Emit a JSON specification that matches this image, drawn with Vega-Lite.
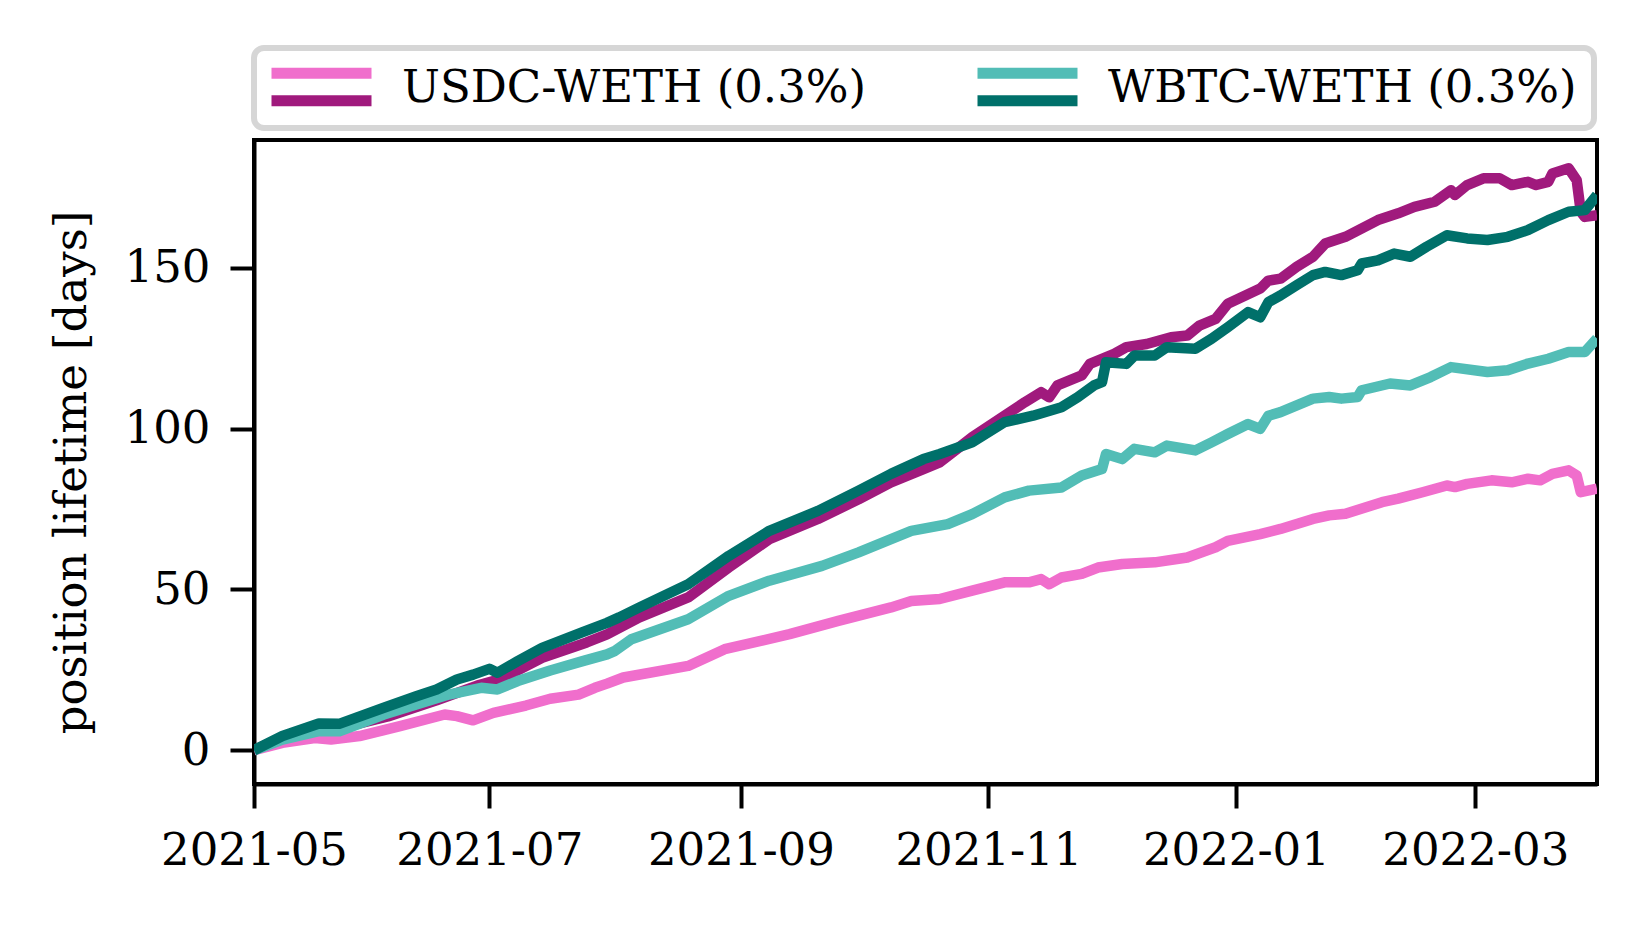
{
  "$schema": "https://vega.github.io/schema/vega-lite/v6.json",
  "width": 1343,
  "height": 644,
  "autosize": {"type": "none"},
  "padding": {"left": 254, "top": 140, "right": 50, "bottom": 141},
  "background": "white",
  "data": {
    "values": [
      {"s": "usdc_a", "d": "2021-05-04", "v": 0},
      {"s": "usdc_a", "d": "2021-05-11", "v": 2.3},
      {"s": "usdc_a", "d": "2021-05-19", "v": 3.8},
      {"s": "usdc_a", "d": "2021-05-23", "v": 3.3},
      {"s": "usdc_a", "d": "2021-05-30", "v": 4.4},
      {"s": "usdc_a", "d": "2021-06-09", "v": 7.5},
      {"s": "usdc_a", "d": "2021-06-20", "v": 11.1},
      {"s": "usdc_a", "d": "2021-06-23", "v": 10.6},
      {"s": "usdc_a", "d": "2021-06-27", "v": 9.3},
      {"s": "usdc_a", "d": "2021-07-02", "v": 11.6},
      {"s": "usdc_a", "d": "2021-07-10", "v": 13.9},
      {"s": "usdc_a", "d": "2021-07-16", "v": 16},
      {"s": "usdc_a", "d": "2021-07-23", "v": 17.3},
      {"s": "usdc_a", "d": "2021-07-27", "v": 19.4},
      {"s": "usdc_a", "d": "2021-07-30", "v": 20.7},
      {"s": "usdc_a", "d": "2021-08-03", "v": 22.6},
      {"s": "usdc_a", "d": "2021-08-19", "v": 26.2},
      {"s": "usdc_a", "d": "2021-08-28", "v": 31.4},
      {"s": "usdc_a", "d": "2021-09-13", "v": 36.1},
      {"s": "usdc_a", "d": "2021-09-25", "v": 40.2},
      {"s": "usdc_a", "d": "2021-10-08", "v": 44.4},
      {"s": "usdc_a", "d": "2021-10-13", "v": 46.4},
      {"s": "usdc_a", "d": "2021-10-20", "v": 47},
      {"s": "usdc_a", "d": "2021-10-28", "v": 49.6},
      {"s": "usdc_a", "d": "2021-11-05", "v": 52.2},
      {"s": "usdc_a", "d": "2021-11-11", "v": 52.2},
      {"s": "usdc_a", "d": "2021-11-14", "v": 53.2},
      {"s": "usdc_a", "d": "2021-11-16", "v": 51.6},
      {"s": "usdc_a", "d": "2021-11-19", "v": 53.7},
      {"s": "usdc_a", "d": "2021-11-24", "v": 54.8},
      {"s": "usdc_a", "d": "2021-11-28", "v": 56.8},
      {"s": "usdc_a", "d": "2021-12-04", "v": 57.9},
      {"s": "usdc_a", "d": "2021-12-12", "v": 58.4},
      {"s": "usdc_a", "d": "2021-12-20", "v": 59.9},
      {"s": "usdc_a", "d": "2021-12-27", "v": 63.1},
      {"s": "usdc_a", "d": "2021-12-30", "v": 65.1},
      {"s": "usdc_a", "d": "2022-01-07", "v": 67.2},
      {"s": "usdc_a", "d": "2022-01-12", "v": 68.8},
      {"s": "usdc_a", "d": "2022-01-20", "v": 71.9},
      {"s": "usdc_a", "d": "2022-01-24", "v": 73},
      {"s": "usdc_a", "d": "2022-01-28", "v": 73.5},
      {"s": "usdc_a", "d": "2022-02-06", "v": 77.1},
      {"s": "usdc_a", "d": "2022-02-10", "v": 78.2},
      {"s": "usdc_a", "d": "2022-02-16", "v": 80.2},
      {"s": "usdc_a", "d": "2022-02-22", "v": 82.3},
      {"s": "usdc_a", "d": "2022-02-24", "v": 81.8},
      {"s": "usdc_a", "d": "2022-02-27", "v": 82.8},
      {"s": "usdc_a", "d": "2022-03-05", "v": 83.9},
      {"s": "usdc_a", "d": "2022-03-10", "v": 83.3},
      {"s": "usdc_a", "d": "2022-03-14", "v": 84.4},
      {"s": "usdc_a", "d": "2022-03-17", "v": 83.9},
      {"s": "usdc_a", "d": "2022-03-20", "v": 85.9},
      {"s": "usdc_a", "d": "2022-03-24", "v": 87},
      {"s": "usdc_a", "d": "2022-03-26", "v": 85.4},
      {"s": "usdc_a", "d": "2022-03-27", "v": 80.2},
      {"s": "usdc_a", "d": "2022-03-31", "v": 81.3},

      {"s": "usdc_b", "d": "2021-05-04", "v": 0},
      {"s": "usdc_b", "d": "2021-05-11", "v": 4.0},
      {"s": "usdc_b", "d": "2021-05-20", "v": 7.0},
      {"s": "usdc_b", "d": "2021-05-29", "v": 8.0},
      {"s": "usdc_b", "d": "2021-06-06", "v": 10.5},
      {"s": "usdc_b", "d": "2021-06-18", "v": 15.5},
      {"s": "usdc_b", "d": "2021-06-28", "v": 20.1},
      {"s": "usdc_b", "d": "2021-07-04", "v": 22.2},
      {"s": "usdc_b", "d": "2021-07-14", "v": 28.7},
      {"s": "usdc_b", "d": "2021-07-25", "v": 33.5},
      {"s": "usdc_b", "d": "2021-07-30", "v": 36},
      {"s": "usdc_b", "d": "2021-08-07", "v": 41.3},
      {"s": "usdc_b", "d": "2021-08-19", "v": 47.5},
      {"s": "usdc_b", "d": "2021-08-29", "v": 56.8},
      {"s": "usdc_b", "d": "2021-09-08", "v": 65.6},
      {"s": "usdc_b", "d": "2021-09-20", "v": 71.9},
      {"s": "usdc_b", "d": "2021-09-30", "v": 78},
      {"s": "usdc_b", "d": "2021-10-08", "v": 83.3},
      {"s": "usdc_b", "d": "2021-10-16", "v": 87.4},
      {"s": "usdc_b", "d": "2021-10-20", "v": 89.5},
      {"s": "usdc_b", "d": "2021-10-28", "v": 97.3},
      {"s": "usdc_b", "d": "2021-11-05", "v": 104},
      {"s": "usdc_b", "d": "2021-11-10", "v": 108.2},
      {"s": "usdc_b", "d": "2021-11-14", "v": 111.3},
      {"s": "usdc_b", "d": "2021-11-16", "v": 109.7},
      {"s": "usdc_b", "d": "2021-11-18", "v": 113.4},
      {"s": "usdc_b", "d": "2021-11-24", "v": 116.5},
      {"s": "usdc_b", "d": "2021-11-26", "v": 120.1},
      {"s": "usdc_b", "d": "2021-12-02", "v": 123.2},
      {"s": "usdc_b", "d": "2021-12-05", "v": 125.3},
      {"s": "usdc_b", "d": "2021-12-10", "v": 126.3},
      {"s": "usdc_b", "d": "2021-12-16", "v": 128.4},
      {"s": "usdc_b", "d": "2021-12-20", "v": 128.9},
      {"s": "usdc_b", "d": "2021-12-23", "v": 132},
      {"s": "usdc_b", "d": "2021-12-27", "v": 134.1},
      {"s": "usdc_b", "d": "2021-12-30", "v": 138.8},
      {"s": "usdc_b", "d": "2022-01-07", "v": 143.5},
      {"s": "usdc_b", "d": "2022-01-09", "v": 146},
      {"s": "usdc_b", "d": "2022-01-12", "v": 146.6},
      {"s": "usdc_b", "d": "2022-01-16", "v": 150.3},
      {"s": "usdc_b", "d": "2022-01-20", "v": 153.4},
      {"s": "usdc_b", "d": "2022-01-23", "v": 157.5},
      {"s": "usdc_b", "d": "2022-01-28", "v": 159.6},
      {"s": "usdc_b", "d": "2022-02-05", "v": 164.8},
      {"s": "usdc_b", "d": "2022-02-10", "v": 166.9},
      {"s": "usdc_b", "d": "2022-02-14", "v": 168.9},
      {"s": "usdc_b", "d": "2022-02-19", "v": 170.5},
      {"s": "usdc_b", "d": "2022-02-23", "v": 174.1},
      {"s": "usdc_b", "d": "2022-02-24", "v": 172.6},
      {"s": "usdc_b", "d": "2022-02-27", "v": 175.7},
      {"s": "usdc_b", "d": "2022-03-03", "v": 177.8},
      {"s": "usdc_b", "d": "2022-03-07", "v": 177.8},
      {"s": "usdc_b", "d": "2022-03-10", "v": 175.7},
      {"s": "usdc_b", "d": "2022-03-14", "v": 176.7},
      {"s": "usdc_b", "d": "2022-03-16", "v": 175.7},
      {"s": "usdc_b", "d": "2022-03-19", "v": 176.7},
      {"s": "usdc_b", "d": "2022-03-20", "v": 179.3},
      {"s": "usdc_b", "d": "2022-03-24", "v": 180.9},
      {"s": "usdc_b", "d": "2022-03-26", "v": 177.2},
      {"s": "usdc_b", "d": "2022-03-27", "v": 167.4},
      {"s": "usdc_b", "d": "2022-03-28", "v": 165.8},
      {"s": "usdc_b", "d": "2022-03-31", "v": 166.3},

      {"s": "wbtc_a", "d": "2021-05-04", "v": 0},
      {"s": "wbtc_a", "d": "2021-05-11", "v": 3.3},
      {"s": "wbtc_a", "d": "2021-05-20", "v": 5.9},
      {"s": "wbtc_a", "d": "2021-05-25", "v": 5.9},
      {"s": "wbtc_a", "d": "2021-06-05", "v": 11.1},
      {"s": "wbtc_a", "d": "2021-06-13", "v": 14.2},
      {"s": "wbtc_a", "d": "2021-06-21", "v": 17.3},
      {"s": "wbtc_a", "d": "2021-06-29", "v": 19.4},
      {"s": "wbtc_a", "d": "2021-07-03", "v": 18.9},
      {"s": "wbtc_a", "d": "2021-07-08", "v": 21.5},
      {"s": "wbtc_a", "d": "2021-07-16", "v": 24.8},
      {"s": "wbtc_a", "d": "2021-07-24", "v": 27.7},
      {"s": "wbtc_a", "d": "2021-07-30", "v": 29.8},
      {"s": "wbtc_a", "d": "2021-08-01", "v": 30.9},
      {"s": "wbtc_a", "d": "2021-08-05", "v": 34.5},
      {"s": "wbtc_a", "d": "2021-08-19", "v": 40.7},
      {"s": "wbtc_a", "d": "2021-08-29", "v": 48},
      {"s": "wbtc_a", "d": "2021-09-08", "v": 52.7},
      {"s": "wbtc_a", "d": "2021-09-21", "v": 57.3},
      {"s": "wbtc_a", "d": "2021-09-30", "v": 61.5},
      {"s": "wbtc_a", "d": "2021-10-08", "v": 65.6},
      {"s": "wbtc_a", "d": "2021-10-13", "v": 68.2},
      {"s": "wbtc_a", "d": "2021-10-22", "v": 70.3},
      {"s": "wbtc_a", "d": "2021-10-28", "v": 73.4},
      {"s": "wbtc_a", "d": "2021-11-05", "v": 78.6},
      {"s": "wbtc_a", "d": "2021-11-11", "v": 80.7},
      {"s": "wbtc_a", "d": "2021-11-19", "v": 81.7},
      {"s": "wbtc_a", "d": "2021-11-24", "v": 85.4},
      {"s": "wbtc_a", "d": "2021-11-29", "v": 87.4},
      {"s": "wbtc_a", "d": "2021-11-30", "v": 92.1},
      {"s": "wbtc_a", "d": "2021-12-04", "v": 90.5},
      {"s": "wbtc_a", "d": "2021-12-07", "v": 93.7},
      {"s": "wbtc_a", "d": "2021-12-12", "v": 92.6},
      {"s": "wbtc_a", "d": "2021-12-15", "v": 94.7},
      {"s": "wbtc_a", "d": "2021-12-22", "v": 93.2},
      {"s": "wbtc_a", "d": "2021-12-26", "v": 95.7},
      {"s": "wbtc_a", "d": "2021-12-30", "v": 98.3},
      {"s": "wbtc_a", "d": "2022-01-04", "v": 101.4},
      {"s": "wbtc_a", "d": "2022-01-07", "v": 99.9},
      {"s": "wbtc_a", "d": "2022-01-09", "v": 104},
      {"s": "wbtc_a", "d": "2022-01-12", "v": 105.1},
      {"s": "wbtc_a", "d": "2022-01-20", "v": 109.3},
      {"s": "wbtc_a", "d": "2022-01-24", "v": 109.8},
      {"s": "wbtc_a", "d": "2022-01-27", "v": 109.3},
      {"s": "wbtc_a", "d": "2022-01-31", "v": 109.8},
      {"s": "wbtc_a", "d": "2022-02-01", "v": 111.9},
      {"s": "wbtc_a", "d": "2022-02-08", "v": 114},
      {"s": "wbtc_a", "d": "2022-02-13", "v": 113.4},
      {"s": "wbtc_a", "d": "2022-02-18", "v": 116},
      {"s": "wbtc_a", "d": "2022-02-23", "v": 119.1},
      {"s": "wbtc_a", "d": "2022-03-04", "v": 117.6},
      {"s": "wbtc_a", "d": "2022-03-09", "v": 118.1},
      {"s": "wbtc_a", "d": "2022-03-14", "v": 120.2},
      {"s": "wbtc_a", "d": "2022-03-19", "v": 121.7},
      {"s": "wbtc_a", "d": "2022-03-24", "v": 123.8},
      {"s": "wbtc_a", "d": "2022-03-28", "v": 123.8},
      {"s": "wbtc_a", "d": "2022-03-31", "v": 128},

      {"s": "wbtc_b", "d": "2021-05-04", "v": 0},
      {"s": "wbtc_b", "d": "2021-05-11", "v": 4.4},
      {"s": "wbtc_b", "d": "2021-05-20", "v": 8.3},
      {"s": "wbtc_b", "d": "2021-05-25", "v": 8.2},
      {"s": "wbtc_b", "d": "2021-06-05", "v": 13.2},
      {"s": "wbtc_b", "d": "2021-06-13", "v": 16.8},
      {"s": "wbtc_b", "d": "2021-06-18", "v": 18.9},
      {"s": "wbtc_b", "d": "2021-06-23", "v": 22},
      {"s": "wbtc_b", "d": "2021-06-27", "v": 23.5},
      {"s": "wbtc_b", "d": "2021-07-01", "v": 25.3},
      {"s": "wbtc_b", "d": "2021-07-03", "v": 24.1},
      {"s": "wbtc_b", "d": "2021-07-08", "v": 27.7},
      {"s": "wbtc_b", "d": "2021-07-14", "v": 31.8},
      {"s": "wbtc_b", "d": "2021-07-24", "v": 36.7},
      {"s": "wbtc_b", "d": "2021-07-30", "v": 39.6},
      {"s": "wbtc_b", "d": "2021-08-02", "v": 41.3},
      {"s": "wbtc_b", "d": "2021-08-07", "v": 44.4},
      {"s": "wbtc_b", "d": "2021-08-19", "v": 51.6},
      {"s": "wbtc_b", "d": "2021-08-29", "v": 60.4},
      {"s": "wbtc_b", "d": "2021-09-08", "v": 68.2},
      {"s": "wbtc_b", "d": "2021-09-20", "v": 74.4},
      {"s": "wbtc_b", "d": "2021-09-30", "v": 80.7},
      {"s": "wbtc_b", "d": "2021-10-08", "v": 85.9},
      {"s": "wbtc_b", "d": "2021-10-16", "v": 90.5},
      {"s": "wbtc_b", "d": "2021-10-20", "v": 92.1},
      {"s": "wbtc_b", "d": "2021-10-28", "v": 95.7},
      {"s": "wbtc_b", "d": "2021-11-05", "v": 102},
      {"s": "wbtc_b", "d": "2021-11-12", "v": 104},
      {"s": "wbtc_b", "d": "2021-11-19", "v": 106.6},
      {"s": "wbtc_b", "d": "2021-11-23", "v": 109.7},
      {"s": "wbtc_b", "d": "2021-11-27", "v": 113.4},
      {"s": "wbtc_b", "d": "2021-11-29", "v": 114.4},
      {"s": "wbtc_b", "d": "2021-11-30", "v": 120.6},
      {"s": "wbtc_b", "d": "2021-12-05", "v": 120.1},
      {"s": "wbtc_b", "d": "2021-12-07", "v": 122.7},
      {"s": "wbtc_b", "d": "2021-12-12", "v": 122.7},
      {"s": "wbtc_b", "d": "2021-12-15", "v": 125.3},
      {"s": "wbtc_b", "d": "2021-12-22", "v": 124.8},
      {"s": "wbtc_b", "d": "2021-12-26", "v": 127.9},
      {"s": "wbtc_b", "d": "2021-12-30", "v": 131.5},
      {"s": "wbtc_b", "d": "2022-01-04", "v": 136.2},
      {"s": "wbtc_b", "d": "2022-01-07", "v": 134.6},
      {"s": "wbtc_b", "d": "2022-01-09", "v": 139.3},
      {"s": "wbtc_b", "d": "2022-01-12", "v": 141.4},
      {"s": "wbtc_b", "d": "2022-01-16", "v": 144.6},
      {"s": "wbtc_b", "d": "2022-01-20", "v": 147.7},
      {"s": "wbtc_b", "d": "2022-01-23", "v": 148.7},
      {"s": "wbtc_b", "d": "2022-01-27", "v": 147.7},
      {"s": "wbtc_b", "d": "2022-01-31", "v": 149.2},
      {"s": "wbtc_b", "d": "2022-02-01", "v": 151.3},
      {"s": "wbtc_b", "d": "2022-02-05", "v": 152.3},
      {"s": "wbtc_b", "d": "2022-02-09", "v": 154.4},
      {"s": "wbtc_b", "d": "2022-02-13", "v": 153.4},
      {"s": "wbtc_b", "d": "2022-02-17", "v": 156.5},
      {"s": "wbtc_b", "d": "2022-02-22", "v": 160.1},
      {"s": "wbtc_b", "d": "2022-02-27", "v": 159.1},
      {"s": "wbtc_b", "d": "2022-03-04", "v": 158.6},
      {"s": "wbtc_b", "d": "2022-03-09", "v": 159.6},
      {"s": "wbtc_b", "d": "2022-03-14", "v": 161.7},
      {"s": "wbtc_b", "d": "2022-03-19", "v": 164.8},
      {"s": "wbtc_b", "d": "2022-03-24", "v": 167.4},
      {"s": "wbtc_b", "d": "2022-03-28", "v": 167.9},
      {"s": "wbtc_b", "d": "2022-03-31", "v": 172.6}
    ]
  },
  "encoding": {
    "x": {
      "field": "d",
      "type": "temporal",
      "scale": {
        "type": "utc",
        "domain": [
          {"year": 2021, "month": 5, "date": 4, "utc": true},
          {"year": 2022, "month": 3, "date": 31, "utc": true}
        ]
      },
      "axis": {
        "title": null,
        "values": [
          {"year": 2021, "month": 5, "date": 4, "utc": true},
          {"year": 2021, "month": 7, "date": 1, "utc": true},
          {"year": 2021, "month": 9, "date": 1, "utc": true},
          {"year": 2021, "month": 11, "date": 1, "utc": true},
          {"year": 2022, "month": 1, "date": 1, "utc": true},
          {"year": 2022, "month": 3, "date": 1, "utc": true}
        ],
        "format": "%Y-%m",
        "labelFlush": false,
        "labelOverlap": false
      }
    },
    "y": {
      "field": "v",
      "type": "quantitative",
      "scale": {"domain": [-10.5, 189.7], "nice": false, "zero": false},
      "axis": {"title": "position lifetime [days]", "values": [0, 50, 100, 150], "titlePadding": 30, "titleY": 332}
    }
  },
  "layer": [
    {
      "transform": [{"filter": "datum.s == 'usdc_a'"}],
      "mark": {"type": "line", "strokeWidth": 10.5, "strokeJoin": "round", "clip": true},
      "encoding": {
        "color": {
          "field": "s",
          "type": "nominal",
          "scale": {"domain": ["usdc_a", "wbtc_a"], "range": ["#f06ecc", "#52bdb6"]},
          "legend": {
            "title": null,
            "orient": "none",
            "legendX": 0,
            "legendY": -92,
            "direction": "horizontal",
            "columns": 2,
            "symbolType": "M-5,-1.45H5",
            "strokeColor": "#d6d6d6",
            "labelExpr": "datum.value == 'usdc_a' ? 'USDC-WETH (0.3%)' : 'WBTC-WETH (0.3%)'"
          }
        }
      }
    },
    {
      "transform": [{"filter": "datum.s == 'usdc_b'"}],
      "mark": {"type": "line", "strokeWidth": 10.5, "strokeJoin": "round", "clip": true},
      "encoding": {
        "stroke": {
          "field": "s",
          "type": "nominal",
          "scale": {"domain": ["usdc_b", "wbtc_b"], "range": ["#a01a7d", "#00706a"]},
          "legend": {
            "title": null,
            "orient": "none",
            "legendX": 0,
            "legendY": -92,
            "direction": "horizontal",
            "columns": 2,
            "symbolType": "M-5,1.3H5",
            "strokeColor": "transparent",
            "labelOpacity": 0,
            "labelExpr": "datum.value == 'usdc_b' ? 'USDC-WETH (0.3%)' : 'WBTC-WETH (0.3%)'"
          }
        }
      }
    },
    {
      "transform": [{"filter": "datum.s == 'wbtc_a'"}],
      "mark": {"type": "line", "strokeWidth": 10.5, "strokeJoin": "round", "clip": true},
      "encoding": {
        "color": {
          "field": "s",
          "type": "nominal",
          "scale": {"domain": ["usdc_a", "wbtc_a"], "range": ["#f06ecc", "#52bdb6"]},
          "legend": {
            "title": null,
            "orient": "none",
            "legendX": 0,
            "legendY": -92,
            "direction": "horizontal",
            "columns": 2,
            "symbolType": "M-5,-1.45H5",
            "strokeColor": "#d6d6d6",
            "labelExpr": "datum.value == 'usdc_a' ? 'USDC-WETH (0.3%)' : 'WBTC-WETH (0.3%)'"
          }
        }
      }
    },
    {
      "transform": [{"filter": "datum.s == 'wbtc_b'"}],
      "mark": {"type": "line", "strokeWidth": 10.5, "strokeJoin": "round", "clip": true},
      "encoding": {
        "stroke": {
          "field": "s",
          "type": "nominal",
          "scale": {"domain": ["usdc_b", "wbtc_b"], "range": ["#a01a7d", "#00706a"]},
          "legend": {
            "title": null,
            "orient": "none",
            "legendX": 0,
            "legendY": -92,
            "direction": "horizontal",
            "columns": 2,
            "symbolType": "M-5,1.3H5",
            "strokeColor": "transparent",
            "labelOpacity": 0,
            "labelExpr": "datum.value == 'usdc_b' ? 'USDC-WETH (0.3%)' : 'WBTC-WETH (0.3%)'"
          }
        }
      }
    }
  ],
  "config": {
    "font": "DejaVu Serif",
    "view": {"stroke": "black", "strokeWidth": 4},
    "axis": {
      "grid": false,
      "domainColor": "black",
      "domainWidth": 4,
      "tickColor": "black",
      "tickWidth": 4,
      "tickSize": 24,
      "labelFont": "DejaVu Serif",
      "labelFontSize": 45,
      "labelColor": "black",
      "labelPadding": 20,
      "labelLimit": 0,
      "titleFont": "DejaVu Serif",
      "titleFontSize": 45,
      "titleFontWeight": "normal",
      "titleColor": "black"
    },
    "legend": {
      "symbolSize": 400,
      "symbolStrokeWidth": 11,
      "symbolOffset": 28,
      "labelOffset": 58,
      "labelFont": "DejaVu Serif",
      "labelFontSize": 45,
      "labelColor": "black",
      "labelBaseline": "middle",
      "labelLimit": 0,
      "columnPadding": 88,
      "padding": 17,
      "strokeWidth": 6,
      "cornerRadius": 10
    }
  }
}
